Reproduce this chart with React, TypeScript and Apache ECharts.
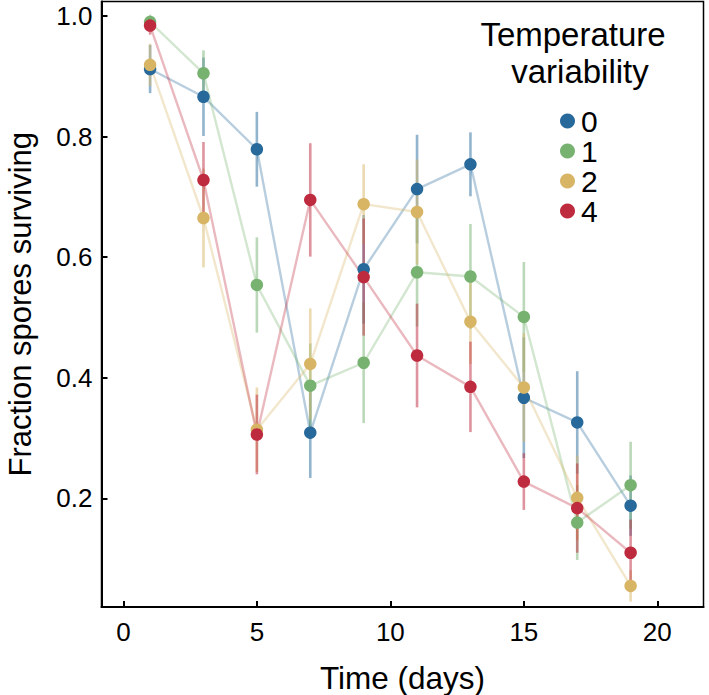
import React, { useEffect, useRef } from "react";
import * as echarts from "echarts";

const days = [1, 3, 5, 7, 9, 11, 13, 15, 17, 19];
const groups = ["0", "1", "2", "4"];
const colors = ["#26699a", "#77b271", "#d8b565", "#be2a3e"];

const mean0 = [0.912, 0.866, 0.779, 0.309, 0.58, 0.713, 0.754, 0.367, 0.326, 0.188];
const err0 = [0.04, 0.065, 0.062, 0.075, 0.09, 0.09, 0.053, 0.1, 0.085, 0.05];
const mean1 = [0.99, 0.905, 0.554, 0.387, 0.425, 0.575, 0.568, 0.501, 0.16, 0.222];
const err1 = [0.012, 0.038, 0.079, 0.07, 0.1, 0.09, 0.087, 0.091, 0.062, 0.072];
const mean2 = [0.919, 0.665, 0.314, 0.423, 0.688, 0.675, 0.493, 0.384, 0.201, 0.055];
const err2 = [0.035, 0.082, 0.07, 0.092, 0.066, 0.087, 0.07, 0.09, 0.07, 0.026];
const mean4 = [0.984, 0.728, 0.306, 0.695, 0.567, 0.437, 0.385, 0.228, 0.184, 0.11];
const err4 = [0.015, 0.063, 0.066, 0.094, 0.097, 0.086, 0.075, 0.047, 0.074, 0.055];

const xTicks = [0, 5, 10, 15, 20];
const yTicks = [0.2, 0.4, 0.6, 0.8, 1.0];

const means = [mean0, mean1, mean2, mean4];
const errs = [err0, err1, err2, err4];

const FONT = "'Liberation Sans', Arial, Helvetica, sans-serif";

export default function App() {
  const ref = useRef<HTMLDivElement>(null);
  useEffect(() => {
    if (!ref.current) return;
    const chart = echarts.init(ref.current, null, { renderer: "svg" });

    const errSeries = groups.map((g, i) => ({
      type: "custom",
      name: "err" + g,
      z: 1,
      silent: true,
      data: days.map((d, k) => [d, means[i][k], errs[i][k]]),
      renderItem: (params: any, api: any) => {
        const x = api.value(0);
        const y = api.value(1);
        const e = api.value(2);
        const p1 = api.coord([x, y - e]);
        const p2 = api.coord([x, y + e]);
        return {
          type: "line",
          shape: { x1: p1[0], y1: p1[1], x2: p2[0], y2: p2[1] },
          style: { stroke: colors[i], lineWidth: 2.6, opacity: 0.5 },
        };
      },
    }));

    const lineSeries = groups.map((g, i) => ({
      type: "line",
      name: g,
      z: 2,
      data: days.map((d, k) => [d, means[i][k]]),
      symbol: "circle",
      symbolSize: 12.5,
      itemStyle: { color: colors[i], opacity: 1 },
      lineStyle: { color: colors[i], width: 2.4, opacity: 0.33 },
      emphasis: { disabled: true },
    }));

    chart.setOption({
      animation: false,
      backgroundColor: "#ffffff",
      textStyle: { fontFamily: FONT },
      grid: {
        left: 101.5,
        right: 5.5,
        top: 1.5,
        bottom: 88,
        show: true,
        borderColor: "#000",
        borderWidth: 1.5,
        containLabel: false,
        outerBoundsMode: "none",
      },
      xAxis: {
        type: "value",
        min: -0.82,
        max: 21.73,
        name: "Time (days)",
        nameLocation: "middle",
        nameGap: 55,
        nameTextStyle: { fontSize: 31.5, color: "#000", fontFamily: FONT },
        axisLine: { show: true, onZero: false, lineStyle: { color: "#000", width: 2 } },
        axisTick: {
          show: true,
          inside: true,
          length: 6,
          lineStyle: { color: "#000", width: 2 },
          customValues: xTicks,
        },
        axisLabel: {
          fontSize: 26,
          color: "#000",
          margin: 12,
          fontFamily: FONT,
          customValues: xTicks,
        },
        splitLine: { show: false },
      },
      yAxis: {
        type: "value",
        min: 0.02,
        max: 1.024,
        name: "Fraction spores surviving",
        nameLocation: "middle",
        nameGap: 66,
        nameTextStyle: { fontSize: 31, color: "#000", fontFamily: FONT },
        axisLine: { show: true, onZero: false, lineStyle: { color: "#000", width: 2 } },
        axisTick: {
          show: true,
          inside: true,
          length: 6,
          lineStyle: { color: "#000", width: 2 },
          customValues: yTicks,
        },
        axisLabel: {
          fontSize: 26,
          color: "#000",
          margin: 9,
          fontFamily: FONT,
          customValues: yTicks,
          formatter: (v: number) => v.toFixed(1),
        },
        splitLine: { show: false },
      },
      legend: {
        data: groups,
        orient: "vertical",
        left: 555,
        top: 101,
        icon: "circle",
        itemWidth: 17,
        itemHeight: 15,
        itemGap: 0,
        selectedMode: false,
        textStyle: { fontSize: 30, color: "#000", lineHeight: 29, fontFamily: FONT, padding: [0, 0, 0, 0] },
      },
      graphic: [
        {
          type: "text",
          x: 573,
          y: 34,
          style: {
            text: "Temperature",
            fontSize: 33,
            fill: "#000",
            fontFamily: FONT,
            align: "center",
            verticalAlign: "middle",
          },
        },
        {
          type: "text",
          x: 580,
          y: 71,
          style: {
            text: "variability",
            fontSize: 33,
            fill: "#000",
            fontFamily: FONT,
            align: "center",
            verticalAlign: "middle",
          },
        },
      ],
      series: [...errSeries, ...lineSeries],
    });

    return () => chart.dispose();
  }, []);

  return (
    <div
      ref={ref}
      style={{ position: "fixed", left: 0, top: 0, width: 709, height: 695 }}
    />
  );
}
